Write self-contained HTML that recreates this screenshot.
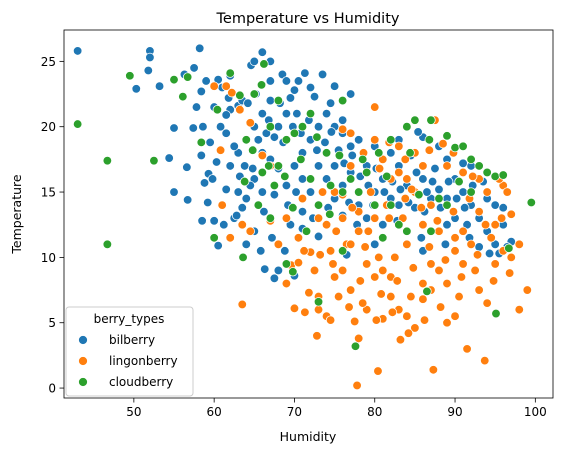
<!DOCTYPE html>
<html><head><meta charset="utf-8"><style>
body{margin:0;background:#fff;}
svg text{font-family:"DejaVu Sans","Liberation Sans",sans-serif;fill:#000;}
</style></head><body>
<svg id="chart" width="562" height="455" xmlns="http://www.w3.org/2000/svg">
<rect width="562" height="455" fill="#fff"/>
<text x="308" y="23" font-size="14.5" text-anchor="middle">Temperature vs Humidity</text>
<g id="marks"></g>
<g id="axes"></g>
<text x="308" y="441" font-size="12.5" text-anchor="middle">Humidity</text>
<text x="0" y="0" font-size="12.5" text-anchor="middle" transform="translate(21,214) rotate(-90)">Temperature</text>
<g>
<rect x="66" y="307" width="127" height="89" rx="3" fill="#fff" fill-opacity="0.8" stroke="#ccc" stroke-width="1"/>
<text x="129" y="323" font-size="12" text-anchor="middle">berry_types</text>
<circle cx="83" cy="340" r="4.5" fill="#1f77b4" stroke="#fff" stroke-width="0.75"/>
<text x="109" y="344" font-size="12">bilberry</text>
<circle cx="83" cy="361" r="4.5" fill="#ff7f0e" stroke="#fff" stroke-width="0.75"/>
<text x="109" y="365" font-size="12">lingonberry</text>
<circle cx="83" cy="382" r="4.5" fill="#2ca02c" stroke="#fff" stroke-width="0.75"/>
<text x="109" y="386" font-size="12">cloudberry</text>
</g>
</svg>
<script>
const seriesNames = ["bilberry","lingonberry","cloudberry"];
const seriesColors = ["#1f77b4","#ff7f0e","#2ca02c"];
const xTicks = [50,60,70,80,90,100];
const yTicks = [0,5,10,15,20,25];
const bilberry = [[43,25.8],[52,25.8],[52,25.3],[51.8,24.3],[53.2,23.1],[50.3,22.9],[57.5,24.5],[58.2,26],[56.3,24],[59,23.5],[60.5,23.6],[58.4,22.7],[61,23],[62,23.9],[63,21.6],[62,21.3],[61.5,20.9],[60,21.5],[64.6,24.7],[66,25.7],[65,25],[67,25],[68.5,24],[69,23.5],[70,22.8],[70.5,23.5],[72,23],[73.5,24],[75,23.1],[77,22.5],[55,19.9],[57.4,19.9],[59.5,18.8],[58.4,17.8],[56.6,16.9],[54.4,17.6],[55,15],[56.7,14.4],[58.8,15.7],[59.3,16.4],[59.8,16],[60,12.8],[58.5,12.8],[60.5,10.9],[61,14],[62.5,13],[63,15],[62,17],[63,18],[64,19],[65,20],[66,21],[67,22],[68,20],[69,21],[66,18],[67,17.5],[68,16.8],[65,16],[64,14.5],[63.5,13.8],[65,12],[64,11],[66,15],[67.5,14.8],[69,15.5],[70,17],[71,18],[72,19],[73,20],[74,21],[75,20],[76,19.5],[77,18.5],[71,16],[72,15],[73,14],[74,16],[75,17],[76,15.5],[77,16.5],[78,14],[79,17],[80,15],[81,16],[82,14.5],[83,17],[84,15.5],[85,13.8],[86,16],[87,14.5],[88,15.2],[89,17.5],[90,16],[91,15],[92,14],[93,13],[94,12],[95,11],[96,12.5],[97,11.2],[92,17],[91,17.2],[94,14.5],[88,18.5],[86,19.2],[85.4,19.6],[83,19],[82,18],[80,18.5],[78,19],[76,20.5],[74.5,21.8],[72.5,22.3],[71.3,24.1],[66.3,9.1],[68,9],[70,8.6],[67.5,8.4],[71,12.2],[73,11.6],[76.5,10.2],[80,11],[84,12],[86,10.5],[89,12.5],[93,10.8],[95.5,10.3],[71,13.5],[69.5,12.5],[62.8,13.2],[61.5,15.2],[60.3,17.3],[65.2,22.5],[63.5,22],[67,23.5],[69.8,20],[68.6,18.8],[70.3,21],[79,13],[81,12.5],[83,14],[87,12],[90,13],[84.5,17.8],[78,15],[75,14.5],[73,17],[76,13.2],[77.8,12.5],[86.5,15],[89,14.5],[91.5,12.5],[87.5,16.8],[61.5,19.5],[62.5,18.5],[63.8,17],[64.8,16.8],[65.5,19],[66.5,19.5],[67.5,19.2],[68.2,21.8],[69.5,22.2],[70.8,19.5],[71.8,20.5],[72.8,18.2],[73.8,18.8],[74.6,19.6],[75.5,18.2],[76.2,17.2],[77.2,17.8],[78.2,16.2],[79.2,15.5],[80.2,16.8],[81.2,15],[82.2,15.8],[83.2,15.2],[84.2,14.2],[85.2,16.5],[86.2,13.5],[87.2,15.8],[88.2,13.8],[89.2,15.8],[90.2,14.5],[91.2,13.8],[92.2,15.5],[93.5,15.8],[95,14],[96,13.8],[60.8,20],[61.8,22.2],[64.2,21.8],[66.8,20.5],[63.2,16.2],[64.5,15.5],[66.2,13.5],[67.2,11.5],[69.2,14],[70.2,15],[72.3,13],[74.2,13.8],[76.8,14.2],[79.8,14],[82.8,12.8],[85.8,11.5],[88.8,11],[91.8,11.5],[94.3,10.3],[96.5,10.8],[57.8,21.5],[58.6,20],[59.2,14.2],[61.2,12.5],[65.8,10.5],[68.8,10.5]];
const lingonberry = [[60,23.1],[61.5,23.1],[62.2,22.6],[63.2,21.3],[64.5,20.3],[60.8,18.2],[66,17.8],[67,17],[63.5,12.5],[63.5,6.4],[61,14],[62,11.5],[64.5,12],[67,12.8],[68,11],[69.6,9.4],[70,6.1],[71.3,5.8],[69,8],[70.5,9.6],[72,10.4],[73,7],[74,5.5],[75,8.5],[76,9],[77,7.5],[78,3.8],[77.5,5.1],[79,6],[80,8.5],[81,9],[82,7],[83,6],[84,5.5],[85,4.6],[86,6.8],[87,7.5],[88,9],[89,8],[90,10.5],[91,9.5],[92,11],[93,7.5],[94,6.5],[95,9.5],[96,10.5],[97,10],[98,6],[99,7.5],[97,13.3],[96,15.5],[94,15],[93,16],[91,16.5],[89,17],[87,14],[85,15],[83,16.5],[81,17.5],[79,16.5],[77,17],[75,15],[73,13],[71,14.5],[80,21.5],[76,19.8],[72.8,4],[74.5,5.2],[77.8,0.2],[80.4,1.3],[81,5.3],[83.2,3.7],[87.3,1.4],[90,5.5],[91.5,3],[93.7,2.1],[89,5],[86,8],[82.5,10],[80,13],[78,12],[76.5,11],[74,12.5],[72.5,9],[70.5,11.5],[84,11],[86,12.5],[88,12],[91,12],[93,13.5],[95,12.5],[96.5,15],[79.5,15],[81.5,14],[83.5,13],[85,18],[88.5,18.7],[87.5,20.5],[82,16],[84,16],[78,13.5],[80.5,10],[76,14.8],[73.5,15],[75.5,7],[78.5,6.5],[82,8.5],[84.5,7],[87,9.5],[90.5,7],[92.5,9],[94.5,11.5],[98,11],[95.5,16],[86,17],[90,11.5],[81,11.5],[79,9.5],[77,11],[74.5,10.5],[71.8,7.3],[73,6],[69,13],[76,13],[83,18.5],[80,19],[77,19.5],[78.8,10.8],[80.8,7.2],[82.8,8.2],[84.8,9.2],[86.8,10.8],[88.8,9.8],[90.8,8.5],[92.8,10.2],[94.8,8.2],[96.8,8.8],[79.2,12],[81.8,13],[83.8,14.5],[85.8,13.8],[87.8,12.8],[89.8,13.5],[91.8,14.5],[93.8,12.5],[95.8,13],[77.2,13.8],[75.2,12],[73.2,10.2],[71.2,10.5],[74.8,9.5],[76.8,6.2],[78.2,8.2],[80.2,5.2],[82.2,5.8],[84.2,4.2],[86.2,5.2],[88.2,6.2],[83.8,17.5],[81.8,18.8],[86.8,18.2],[89.8,18],[92.2,16.2],[78.6,18],[84.6,15.2],[80.6,16.8]];
const cloudberry = [[43,20.2],[46.7,17.4],[46.7,11],[49.5,23.9],[52.5,17.4],[55,23.6],[56.7,23.8],[56.1,22.3],[58.4,18.8],[60.4,21.3],[60,11.5],[63.6,10],[62,24.1],[63.2,22.4],[65.9,23.2],[66.2,24.8],[68,22],[69,19],[68,17],[66,16.5],[64,19],[67,20],[70,19.5],[71,20],[72,16],[74,18],[73,14],[71.5,12],[69,9.5],[69.8,8.9],[73,6.6],[77.6,3.2],[74.4,13.3],[76,15],[76,22],[80.5,18],[82,19],[84.4,18],[85,20.5],[86.8,19],[84,20],[87,20.5],[89,19.3],[90,18.4],[91,18.5],[92,17.5],[93,17],[94,16.5],[95,16.2],[96,16.3],[99.5,14.2],[96.7,10.7],[95.1,5.7],[88,14.5],[87,12],[86.5,7.4],[83,12.5],[81,11.5],[80,14],[78,15],[76,10.5],[74.5,15.5],[67,13],[65.5,14],[67.5,15.5],[65,22.5],[72,21],[77,16],[79,16.5],[82,14],[84,12],[89,14],[92,15],[64.8,18.2],[66.8,17],[68.8,16.2],[70.8,17.5],[72.8,19.2],[75.6,17.8],[78.5,17.5],[81.5,16.2],[85.5,14.8],[90.5,15.8],[63.8,15.8],[69.8,13.8]];

const L=64,R=553,T=30,B=398;
const xMin=41.3,xMax=102.2,yMin=-0.76,yMax=27.4;
function xs(v){return L+(v-xMin)/(xMax-xMin)*(R-L);}
function ys(v){return B-(v-yMin)/(yMax-yMin)*(B-T);}
const NS="http://www.w3.org/2000/svg";
const marks=document.getElementById('marks');
[bilberry,lingonberry,cloudberry].forEach((s,i)=>{
  s.forEach(p=>{
    const c=document.createElementNS(NS,'circle');
    c.setAttribute('cx',xs(p[0]));c.setAttribute('cy',ys(p[1]));
    c.setAttribute('r',4.3);c.setAttribute('fill',seriesColors[i]);
    c.setAttribute('stroke','#fff');c.setAttribute('stroke-width',0.75);
    
    
    marks.appendChild(c);
  });
});
const ax=document.getElementById('axes');
const fr=document.createElementNS(NS,'rect');
fr.setAttribute('x',L);fr.setAttribute('y',T);fr.setAttribute('width',R-L);fr.setAttribute('height',B-T);
fr.setAttribute('fill','none');fr.setAttribute('stroke','#000');fr.setAttribute('stroke-width',0.8);


ax.appendChild(fr);
xTicks.forEach(t=>{
  const x=xs(t);
  const l=document.createElementNS(NS,'line');
  l.setAttribute('x1',x);l.setAttribute('x2',x);l.setAttribute('y1',B);l.setAttribute('y2',B+4.5);l.setAttribute('stroke','#000');l.setAttribute('stroke-width',0.8);
  
  
  ax.appendChild(l);
  const tx=document.createElementNS(NS,'text');
  tx.setAttribute('x',x);tx.setAttribute('y',B+18);tx.setAttribute('font-size','12');tx.setAttribute('text-anchor','middle');
  tx.textContent=t;
  
  
  ax.appendChild(tx);
});
yTicks.forEach(t=>{
  const y=ys(t);
  const l=document.createElementNS(NS,'line');
  l.setAttribute('x1',L-4.5);l.setAttribute('x2',L);l.setAttribute('y1',y);l.setAttribute('y2',y);l.setAttribute('stroke','#000');l.setAttribute('stroke-width',0.8);
  
  
  ax.appendChild(l);
  const tx=document.createElementNS(NS,'text');
  tx.setAttribute('x',L-8);tx.setAttribute('y',y+4.5);tx.setAttribute('font-size','12');tx.setAttribute('text-anchor','end');
  tx.textContent=t;
  
  
  ax.appendChild(tx);
});
</script>
</body></html>
